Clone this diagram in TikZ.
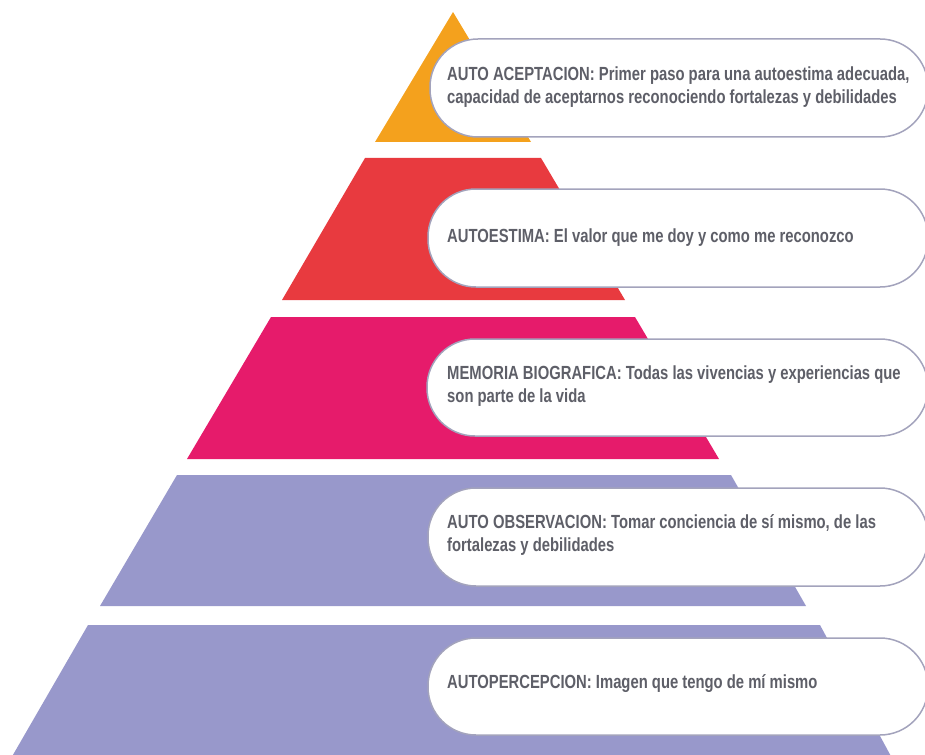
\documentclass[tikz,border=0pt]{standalone}
\usepackage{fontspec}
\setmainfont{Liberation Sans}[FakeStretch=0.78]
\definecolor{cOrange}{HTML}{F4A11D}
\definecolor{cRed}{HTML}{E83A3F}
\definecolor{cPink}{HTML}{E61B6B}
\definecolor{cLav}{HTML}{9898CB}
\definecolor{cBorder}{HTML}{A3A3BC}
\definecolor{cText}{HTML}{5E5F68}
\tikzset{
  pill/.style={fill=white, draw=cBorder, line width=1.5pt, rounded corners=48pt},
  label/.style={anchor=west, align=left, inner sep=0pt, text=cText,
    font=\fontsize{19}{22.5}\selectfont\bfseries}
}
\begin{document}
\begin{tikzpicture}[x=1pt,y=-1pt]
\useasboundingbox (0,0) rectangle (925,754);
\clip (0,0) rectangle (925,754);
% pyramid tiers
\fill[cOrange] (453,12) -- (531,142) -- (375,142) -- cycle;
\fill[cRed] (365,158) -- (541,158) -- (625,300) -- (282,300) -- cycle;
\fill[cPink] (271,317) -- (635,317) -- (719,459) -- (187,459) -- cycle;
\fill[cLav] (177,475) -- (731,475) -- (806,606) -- (100,606) -- cycle;
\fill[cLav] (88,625) -- (820,625) -- (893,760) -- (10,760) -- cycle;
% pills
\draw[pill] (430,39) rectangle (928,137);
\draw[pill] (428,189) rectangle (928,287);
\draw[pill] (427,339) rectangle (928,436);
\draw[pill] (428,488) rectangle (928,586);
\draw[pill] (428,638) rectangle (928,735);
% texts
\node[label] (t1) at (447,87) {AUTO ACEPTACION: Primer paso para una autoestima adecuada,\\capacidad de aceptarnos reconociendo fortalezas y debilidades};
\node[label] (t2) at (447,238) {AUTOESTIMA: El valor que me doy y como me reconozco};
\node[label] (t3) at (447,386) {MEMORIA BIOGRAFICA: Todas las vivencias y experiencias que\\son parte de la vida};
\node[label] (t4) at (447,535) {AUTO OBSERVACION: Tomar conciencia de sí mismo, de las\\fortalezas y debilidades};
\node[label] (t5) at (447,684) {AUTOPERCEPCION: Imagen que tengo de mí mismo};
\end{tikzpicture}
\end{document}
